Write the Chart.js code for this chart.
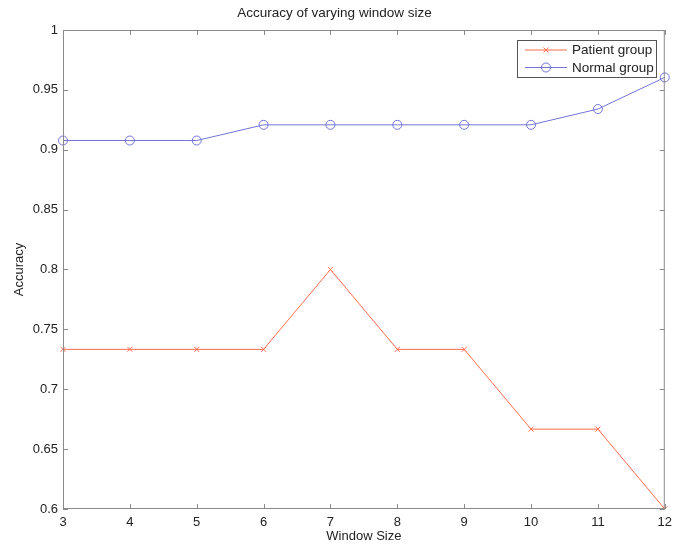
<!DOCTYPE html>
<html>
<head>
<meta charset="utf-8">
<script src="https://cdn.jsdelivr.net/npm/chart.js@4/dist/chart.umd.min.js"></script>
<style>
	html, body { margin: 0; padding: 0; background: #fff; }
	#wrap { width: 678px; height: 544px; }
</style>
</head>
<body>
<div id="wrap"><canvas id="chart" width="678" height="544"></canvas></div>
<script>
const windowSizes = ['3', '4', '5', '6', '7', '8', '9', '10', '11', '12'];
const patientAcc = [0.7333, 0.7333, 0.7333, 0.7333, 0.8, 0.7333, 0.7333, 0.6667, 0.6667, 0.6];
const normalAcc = [0.9077, 0.9077, 0.9077, 0.9208, 0.9208, 0.9208, 0.9208, 0.9208, 0.9340, 0.9604];
const yTicks = [0.6, 0.65, 0.7, 0.75, 0.8, 0.85, 0.9, 0.95, 1];

const FONT = 'Liberation Sans, Arial, sans-serif';
const AXIS = '#8a8a8a';

// matlab style box with inward ticks + legend inside the axes
const boxPlugin = {
	id: 'box',
	afterDatasetsDraw(chart) {
		const ctx = chart.ctx;
		const a = chart.chartArea;
		const xs = chart.scales.x, ys = chart.scales.y;
		const len = 5;
		ctx.save();
		ctx.strokeStyle = AXIS;
		ctx.lineWidth = 1;
		ctx.strokeRect(a.left + 0.5, a.top + 0.5, a.right - a.left - 1, a.bottom - a.top - 1);
		ctx.beginPath();
		windowSizes.forEach((_, i) => {
			const px = Math.round(xs.getPixelForValue(i)) + 0.5;
			ctx.moveTo(px, a.bottom); ctx.lineTo(px, a.bottom - len);
			ctx.moveTo(px, a.top); ctx.lineTo(px, a.top + len);
		});
		yTicks.forEach(v => {
			const py = Math.round(ys.getPixelForValue(v)) + 0.5;
			ctx.moveTo(a.left, py); ctx.lineTo(a.left + len, py);
			ctx.moveTo(a.right, py); ctx.lineTo(a.right - len, py);
		});
		ctx.stroke();

		// legend
		const lx = 517, ly = 40, lw = 139, lh = 37;
		ctx.fillStyle = '#fff';
		ctx.fillRect(lx, ly, lw, lh);
		ctx.strokeStyle = '#555';
		ctx.strokeRect(lx + 0.5, ly + 0.5, lw, lh);
		ctx.font = '13.5px ' + FONT;
		ctx.textBaseline = 'middle';
		chart.data.datasets.forEach((ds, i) => {
			const y = ly + 10 + i * 17.5;
			ctx.strokeStyle = ds.borderColor;
			ctx.fillStyle = 'rgba(0,0,0,0)';
			ctx.beginPath();
			ctx.moveTo(lx + 8, y); ctx.lineTo(lx + 50, y);
			ctx.stroke();
			Chart.helpers.drawPoint(ctx, {
				pointStyle: ds.pointStyle, radius: ds.pointRadius, borderWidth: 1
			}, lx + 29, y);
			ctx.fillStyle = '#222';
			ctx.fillText(ds.label, lx + 55, y + 0.5);
		});
		ctx.restore();
	}
};

new Chart(document.getElementById('chart'), {
	type: 'line',
	data: {
		labels: windowSizes,
		datasets: [
			{
				label: 'Patient group',
				data: patientAcc,
				borderColor: '#ff6d4d',
				backgroundColor: 'transparent',
				borderWidth: 1,
				pointStyle: 'crossRot',
				pointRadius: 3.5,
				pointBorderWidth: 1,
				tension: 0
			},
			{
				label: 'Normal group',
				data: normalAcc,
				borderColor: '#7373d8',
				backgroundColor: 'transparent',
				borderWidth: 1,
				pointStyle: 'circle',
				pointRadius: 4.5,
				pointBorderWidth: 1,
				tension: 0
			}
		]
	},
	options: {
		responsive: false,
		animation: false,
		layout: { padding: { left: 0, right: 9, top: 0, bottom: 0 } },
		plugins: {
			legend: { display: false },
			tooltip: { enabled: false },
			title: {
				display: true,
				text: 'Accuracy of varying window size',
				color: '#222',
				font: { family: FONT, size: 13.5, weight: 'normal' },
				lineHeight: 1.2,
				padding: { top: 5, bottom: 8.8 }
			}
		},
		scales: {
			x: {
				offset: false,
				grid: { display: false, drawTicks: false },
				border: { display: false },
				ticks: { color: '#222', font: { family: FONT, size: 13 }, padding: 6, maxRotation: 0 },
				title: { display: true, text: 'Window Size', color: '#222', font: { family: FONT, size: 13 }, padding: 0 },
				afterFit(s) { s.height = 35; }
			},
			y: {
				min: 0.6,
				max: 1,
				grid: { display: false, drawTicks: false },
				border: { display: false },
				afterBuildTicks(s) { s.ticks = yTicks.map(v => ({ value: v })); },
				ticks: {
					color: '#222',
					font: { family: FONT, size: 13 },
					padding: 5,
					callback: v => String(Math.round(v * 100) / 100)
				},
				title: { display: true, text: 'Accuracy', color: '#222', font: { family: FONT, size: 13 }, padding: { top: 12, bottom: 0 } },
				afterFit(s) { s.width = 63; }
			}
		}
	},
	plugins: [boxPlugin]
});
</script>
</body>
</html>
